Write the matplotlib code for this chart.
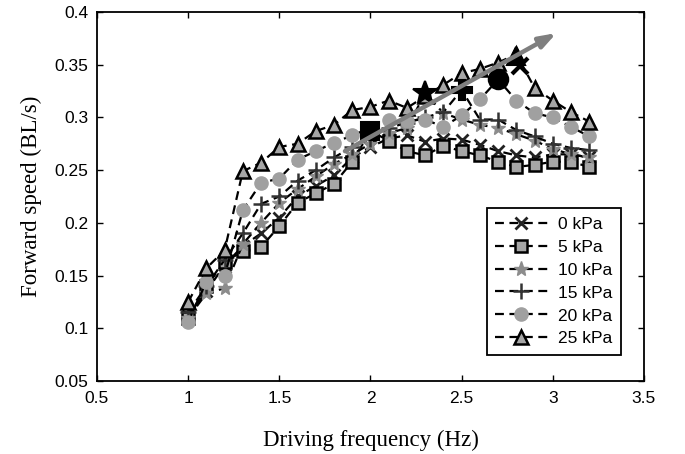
import matplotlib
matplotlib.use("Agg")
import matplotlib.pyplot as plt

freq = [1.0, 1.1, 1.2, 1.3, 1.4, 1.5, 1.6, 1.7, 1.8, 1.9, 2.0, 2.1,
        2.2, 2.3, 2.4, 2.5, 2.6, 2.7, 2.8, 2.9, 3.0, 3.1, 3.2]

speed_0kPa = [0.112, 0.135, 0.160, 0.178, 0.190, 0.205, 0.225, 0.235, 0.245, 0.262, 0.272, 0.280,
              0.283, 0.277, 0.280, 0.279, 0.274, 0.268, 0.264, 0.262, 0.265, 0.265, 0.262]
speed_5kPa = [0.110, 0.140, 0.163, 0.173, 0.177, 0.197, 0.219, 0.228, 0.237, 0.258, 0.287, 0.278,
              0.268, 0.264, 0.273, 0.268, 0.264, 0.258, 0.253, 0.255, 0.258, 0.258, 0.253]
speed_10kPa = [0.110, 0.133, 0.138, 0.180, 0.200, 0.219, 0.232, 0.244, 0.256, 0.265, 0.275, 0.285,
               0.290, 0.323, 0.304, 0.298, 0.293, 0.290, 0.284, 0.278, 0.270, 0.265, 0.262]
speed_15kPa = [0.115, 0.140, 0.165, 0.190, 0.218, 0.225, 0.240, 0.250, 0.262, 0.272, 0.280, 0.290,
               0.295, 0.300, 0.305, 0.326, 0.298, 0.298, 0.288, 0.282, 0.275, 0.271, 0.269]
speed_20kPa = [0.106, 0.144, 0.150, 0.212, 0.238, 0.242, 0.260, 0.268, 0.276, 0.283, 0.290, 0.298,
               0.297, 0.298, 0.291, 0.302, 0.317, 0.336, 0.316, 0.304, 0.300, 0.291, 0.282]
speed_25kPa = [0.125, 0.157, 0.174, 0.249, 0.257, 0.272, 0.275, 0.287, 0.293, 0.307, 0.310, 0.316,
               0.309, 0.320, 0.331, 0.342, 0.346, 0.352, 0.360, 0.328, 0.316, 0.305, 0.296]

labels = ["0 kPa", "5 kPa", "10 kPa", "15 kPa", "20 kPa", "25 kPa"]

# highlighted optimum points (black markers along the arrow)
peak_freq = [2.82, 2.0, 2.3, 2.5, 2.7, 2.8]
peak_speed = [0.349, 0.287, 0.323, 0.326, 0.336, 0.358]

x_ticks = [0.5, 1, 1.5, 2, 2.5, 3, 3.5]
x_tick_labels = ["0.5", "1", "1.5", "2", "2.5", "3", "3.5"]
y_ticks = [0.05, 0.1, 0.15, 0.2, 0.25, 0.3, 0.35, 0.4]
y_tick_labels = ["0.05", "0.1", "0.15", "0.2", "0.25", "0.3", "0.35", "0.4"]

arrow_start = (1.86, 0.268)
arrow_end = (3.02, 0.380)

series = [speed_0kPa, speed_5kPa, speed_10kPa, speed_15kPa, speed_20kPa, speed_25kPa]
styles = [
    dict(marker="x", ms=8, mfc="#222222", mec="#222222", mew=2.0),
    dict(marker="s", ms=8.5, mfc="#a6a6a6", mec="black", mew=1.8),
    dict(marker="*", ms=11, mfc="#8c8c8c", mec="#8c8c8c", mew=1.0),
    dict(marker="+", ms=11, mfc="#333333", mec="#333333", mew=1.8),
    dict(marker="o", ms=9.5, mfc="#a0a0a0", mec="#a0a0a0", mew=1.0),
    dict(marker="^", ms=10.5, mfc="#a6a6a6", mec="black", mew=1.8),
]
peak_styles = [
    dict(marker="x", ms=12, mew=3.0),
    dict(marker="s", ms=13, mew=1.5),
    dict(marker="*", ms=18, mew=1.5),
    dict(marker="P", ms=14, mew=1.5),
    dict(marker="o", ms=14, mew=1.5),
    dict(marker="^", ms=13, mew=1.5),
]

plt.rcParams["font.family"] = ["Liberation Sans", "DejaVu Sans"]

fig = plt.figure(figsize=(6.85, 4.54), dpi=100)
ax = fig.add_axes([0.1416, 0.1608, 0.7985, 0.8128])

for vals, lab, st in zip(series, labels, styles):
    ax.plot(freq, vals, linestyle=(0, (4, 2.5)), color="black", lw=1.6, label=lab, **st)

for fx, fy, st in zip(peak_freq, peak_speed, peak_styles):
    ax.plot([fx], [fy], linestyle="none", color="black", mfc="black", mec="black", zorder=4, **st)

ax.annotate("", xy=arrow_end, xytext=arrow_start,
            arrowprops=dict(arrowstyle="-|>,head_length=1.0,head_width=0.35",
                            color="#7f7f7f", lw=3.2, shrinkA=0, shrinkB=0),
            zorder=5)

ax.set_xlim(0.5, 3.5)
ax.set_ylim(0.05, 0.4)
ax.set_xticks(x_ticks)
ax.set_xticklabels(x_tick_labels)
ax.set_yticks(y_ticks)
ax.set_yticklabels(y_tick_labels)
ax.tick_params(direction="in", length=4, width=1.0, labelsize=12.5,
               top=True, right=True, pad=7)
ax.tick_params(axis="y", pad=6)
for sp in ax.spines.values():
    sp.set_linewidth(1.3)

ax.set_xlabel("Driving frequency (Hz)", family=["Liberation Serif", "DejaVu Serif"],
              fontsize=16.5, labelpad=17)
ax.set_ylabel("Forward speed (BL/s)", family=["Liberation Serif", "DejaVu Serif"],
              fontsize=16.5, labelpad=9)

leg = ax.legend(loc="lower right", bbox_to_anchor=(0.958, 0.07), borderaxespad=0,
                fontsize=12.5, handlelength=3.0, handletextpad=0.6, borderpad=0.5,
                labelspacing=0.45, fancybox=False, framealpha=1.0, edgecolor="black")
leg.get_frame().set_linewidth(1.3)

fig.savefig("out.png", dpi=100)
